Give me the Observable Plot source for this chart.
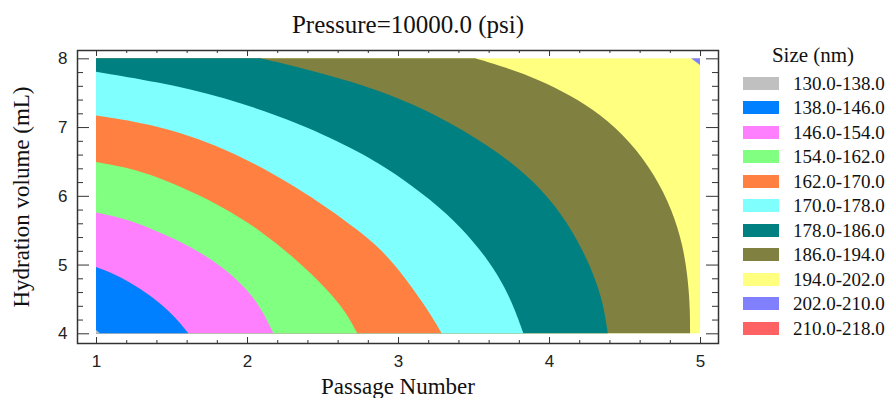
<!DOCTYPE html>
<html>
<head>
<meta charset="utf-8">
<script src="https://cdn.jsdelivr.net/npm/d3@7"></script>
<script src="https://cdn.jsdelivr.net/npm/@observablehq/plot@0.6"></script>
<style>
  body { margin: 0; background: #fff; }
  #wrap { position: relative; width: 889px; height: 398px; overflow: hidden; background: #fff; }
  #chart { position: absolute; left: 0; top: 0; }
  #title { position: absolute; left: 0; width: 816px; top: 12px; text-align: center;
           font: 25px/25px "Liberation Serif", "Times New Roman", serif; color: #111; }
  #legend-title { position: absolute; left: 743px; width: 140px; top: 45px; text-align: center;
           font: 21px/21px "Liberation Serif", "Times New Roman", serif; color: #111; }
  #legend { position: absolute; left: 743px; top: 71px; }
  .row { height: 24.5px; display: flex; align-items: center; }
  .sw { width: 36px; height: 13px; margin-right: 14px; }
  .lab { font: 19px/19px "Liberation Serif", "Times New Roman", serif; color: #111; white-space: nowrap; }
</style>
</head>
<body>
<div id="wrap">
  <div id="chart"></div>
  <div id="title"></div>
  <div id="legend-title"></div>
  <div id="legend"></div>
</div>
<script>
// ---- text ----
const chartTitle = "Pressure=10000.0 (psi)";
const xLabel = "Passage Number";
const yLabel = "Hydration volume (mL)";
const legendTitle = "Size (nm)";

// ---- legend bins ----
const sizeBins = ["130.0-138.0","138.0-146.0","146.0-154.0","154.0-162.0","162.0-170.0",
                  "170.0-178.0","178.0-186.0","186.0-194.0","194.0-202.0","202.0-210.0","210.0-218.0"];
const binColors = ["#c0c0c0","#0080ff","#ff80ff","#80ff80","#ff8040",
                   "#80ffff","#008080","#808040","#ffff80","#8080ff","#ff6262"];

// ---- design region ----
const passageRange = [1, 5];
const hydrationRange = [4, 8];

// ---- ticks ----
const xMajorTicks = [1, 2, 3, 4, 5];
const yMajorTicks = [4, 5, 6, 7, 8];
const xMinorTicks = [1.2,1.4,1.6,1.8,2.2,2.4,2.6,2.8,3.2,3.4,3.6,3.8,4.2,4.4,4.6,4.8];
const yMinorTicks = [4.2,4.4,4.6,4.8,5.2,5.4,5.6,5.8,6.2,6.4,6.6,6.8,7.2,7.4,7.6,7.8];

// ---- contour boundaries: [passage, hydration], by hydration ascending ----
const contour138 = [[1.026,4.0],[1.0,4.048]];
const contour146 = [[1.611,4.0],[1.530,4.223],[1.424,4.441],[1.291,4.659],[1.126,4.863],[1.0,4.964]];
const contour154 = [[2.174,4.0],[2.113,4.281],[2.020,4.601],[1.841,4.969],[1.623,5.270],
                    [1.404,5.488],[1.192,5.670],[1.0,5.757]];
const contour162 = [[2.730,4.0],[2.656,4.310],[2.536,4.630],[2.331,5.067],[2.086,5.503],
                    [1.841,5.837],[1.623,6.070],[1.404,6.274],[1.225,6.405],[1.0,6.492]];
const contour170 = [[3.289,4.0],[3.199,4.339],[2.980,5.023],[2.762,5.473],
                    [2.318,6.157],[1.841,6.714],[1.404,7.030],[1.0,7.168]];
const contour178 = [[3.830,4.0],[3.775,4.339],[3.709,4.659],[3.609,5.037],[3.424,5.532],[3.212,5.953],
                    [2.980,6.327],[2.762,6.623],[2.351,7.059],[1.841,7.441],[1.404,7.660],[1.0,7.805]];
const contour186 = [[4.389,4.0],[4.364,4.368],[4.318,4.732],[4.225,5.212],[4.086,5.735],[3.907,6.201],
                    [3.675,6.623],[3.344,7.074],[3.013,7.423],[2.682,7.670],[2.351,7.866],[2.086,8.0]];
const contour194 = [[4.934,4.0],[4.934,4.339],[4.921,4.775],[4.887,5.284],[4.815,5.794],[4.702,6.303],
                    [4.536,6.797],[4.338,7.191],[4.139,7.466],[3.940,7.684],[3.709,7.873],[3.510,8.0]];
const contour202 = [[5.0,7.902],[4.94,8.0]];

const colorOf = bin => binColors[sizeBins.indexOf(bin)];

// regions left/below each boundary, painted from the highest level down
const layers = [
  {pts: contour194, bin: "186.0-194.0"},
  {pts: contour186, bin: "178.0-186.0"},
  {pts: contour178, bin: "170.0-178.0"},
  {pts: contour170, bin: "162.0-170.0"},
  {pts: contour162, bin: "154.0-162.0"},
  {pts: contour154, bin: "146.0-154.0"},
  {pts: contour146, bin: "138.0-146.0"},
  {pts: contour138, bin: "130.0-138.0"}
];

const sans = "'Liberation Sans', Arial, sans-serif";
const serif = "'Liberation Serif', 'Times New Roman', serif";
const axisColor = "#333";

const W = 740, H = 398, mL = 77, mR = 22, mT = 50, mB = 55;
const frameW = W - mL - mR, frameH = H - mT - mB;
const majorX = 6, minorX = 3, majorY = 12, minorY = 6;

const chart = Plot.plot({
  width: W,
  height: H,
  marginLeft: mL,
  marginRight: mR,
  marginTop: mT,
  marginBottom: mB,
  x: {domain: [0.874, 5.119], label: null},
  y: {domain: [3.859, 8.121], label: null},
  style: {background: "transparent"},
  marks: [
    Plot.rect([0], {x1: passageRange[0], x2: passageRange[1], y1: hydrationRange[0], y2: hydrationRange[1],
                    fill: colorOf("194.0-202.0")}),
    Plot.areaX(contour202, {x1: d => d[0], x2: passageRange[1], y: d => d[1], fill: colorOf("202.0-210.0")}),
    ...layers.map(l => Plot.areaX(l.pts, {x1: passageRange[0], x2: d => d[0], y: d => d[1],
                                          fill: colorOf(l.bin), curve: "basis"})),
    Plot.frame({stroke: axisColor, strokeWidth: 1.5}),
    // inward tick marks on all four sides
    Plot.tickX(xMajorTicks, {x: d => d, insetTop: frameH - majorX, stroke: axisColor}),
    Plot.tickX(xMinorTicks, {x: d => d, insetTop: frameH - minorX, stroke: axisColor}),
    Plot.tickX(xMajorTicks, {x: d => d, insetBottom: frameH - majorX, stroke: axisColor}),
    Plot.tickX(xMinorTicks, {x: d => d, insetBottom: frameH - minorX, stroke: axisColor}),
    Plot.tickY(yMajorTicks, {y: d => d, insetRight: frameW - majorY, stroke: axisColor}),
    Plot.tickY(yMinorTicks, {y: d => d, insetRight: frameW - minorY, stroke: axisColor}),
    Plot.tickY(yMajorTicks, {y: d => d, insetLeft: frameW - majorY, stroke: axisColor}),
    Plot.tickY(yMinorTicks, {y: d => d, insetLeft: frameW - minorY, stroke: axisColor}),
    // tick labels
    Plot.axisX({ticks: xMajorTicks, anchor: "bottom", tickSize: 0, tickPadding: 11, label: null,
                tickFormat: d => String(d), fontSize: 17, fontFamily: sans, fill: "#222"}),
    Plot.axisY({ticks: yMajorTicks, anchor: "left", tickSize: 0, tickPadding: 10, label: null,
                tickFormat: d => String(d), fontSize: 17, fontFamily: sans, fill: "#222"}),
    // axis titles
    Plot.axisX({ticks: [], anchor: "bottom", tickSize: 0, label: xLabel, labelAnchor: "center",
                labelOffset: 50, labelArrow: "none", fontSize: 23, fontFamily: serif, fill: "#111"}),
    Plot.axisY({ticks: [], anchor: "left", tickSize: 0, label: yLabel, labelAnchor: "center",
                labelOffset: 65, labelArrow: "none", fontSize: 23, fontFamily: serif, fill: "#111"})
  ]
});
document.getElementById("chart").appendChild(chart);

document.getElementById("title").textContent = chartTitle;
document.getElementById("legend-title").textContent = legendTitle;
const legend = d3.select("#legend");
sizeBins.forEach((b, i) => {
  const row = legend.append("div").attr("class", "row");
  row.append("div").attr("class", "sw").style("background", binColors[i]);
  row.append("div").attr("class", "lab").text(b);
});
</script>
</body>
</html>
